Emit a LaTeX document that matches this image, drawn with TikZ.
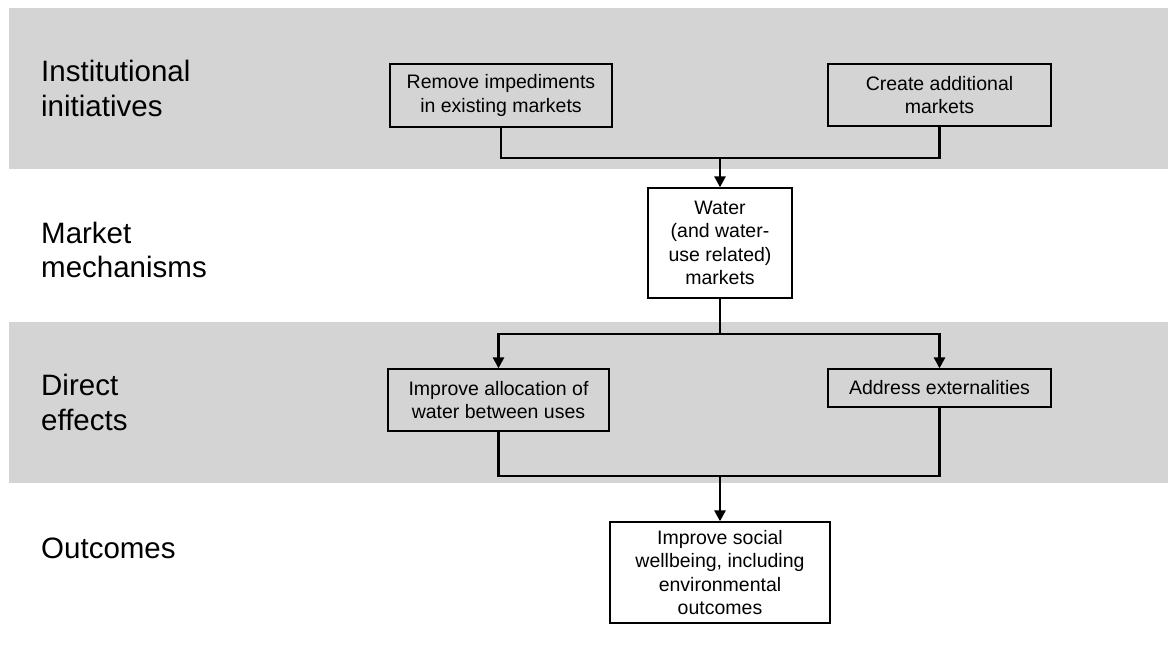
\documentclass[tikz,border=0pt]{standalone}
\usepackage{fontspec}
\setmainfont{Liberation Sans}
\usetikzlibrary{arrows.meta}
\definecolor{bandgray}{RGB}{212,212,212}
\tikzset{
  band/.style={fill=bandgray, draw=none},
  rowlabel/.style={anchor=base west, align=left, inner sep=0pt,
    font=\fontsize{29.5}{35}\selectfont},
  flowbox/.style={draw=black, line width=1.3pt, rectangle, inner sep=0pt,
    align=center, font=\fontsize{19.5}{23.5}\selectfont},
  conn/.style={line width=2.7pt, line join=miter, draw=black},
  arr/.style={conn, -{Triangle[length=11pt,width=11pt]}}
}
\begin{document}
\begin{tikzpicture}[x=1pt,y=-1pt]
\useasboundingbox (0,0) rectangle (1168,647);
% bands
\fill[band] (9,8) rectangle (1168,169);
\fill[band] (9,322) rectangle (1168,483);
% row labels (base = baseline of last line)
\node[rowlabel] (l1) at (41,117) {Institutional\\initiatives};
\node[rowlabel] (l2) at (41,278) {Market\\mechanisms};
\node[rowlabel] (l3) at (41,430) {Direct\\effects};
\node[rowlabel] (l4) at (41,558) {Outcomes};
% boxes
\node[flowbox, minimum width=222pt, minimum height=63pt] (b1) at (501,95.5)
  {Remove impediments\\in existing markets};
\node[flowbox, minimum width=223pt, minimum height=62pt] (b2) at (939.5,95)
  {Create additional\\markets};
\node[flowbox, minimum width=144pt, minimum height=110pt] (water) at (720,243)
  {Water\\(and water-\\use related)\\markets};
\node[flowbox, minimum width=221pt, minimum height=62pt] (b3) at (498.5,400)
  {Improve allocation of\\water between uses};
\node[flowbox, minimum width=223pt, minimum height=38pt] (b4) at (939.5,388)
  {Address externalities};
\node[flowbox, minimum width=220pt, minimum height=101pt] (out) at (720,572.5)
  {Improve social\\wellbeing, including\\environmental\\outcomes};
% junctions
\coordinate (j1) at (720,158);
\coordinate (j2) at (720,334);
\coordinate (j3) at (720,476);
% connectors
\draw[conn] (b1.south) |- (j1) -| (b2.south);
\draw[arr] (j1) -- (water.north);
\draw[conn] (water.south) -- (j2);
\draw[arr] (j2) -| (b3.north);
\draw[arr] (j2) -| (b4.north);
\draw[conn] (b3.south) |- (j3) -| (b4.south);
\draw[arr] (j3) -- (out.north);
\end{tikzpicture}
\end{document}
